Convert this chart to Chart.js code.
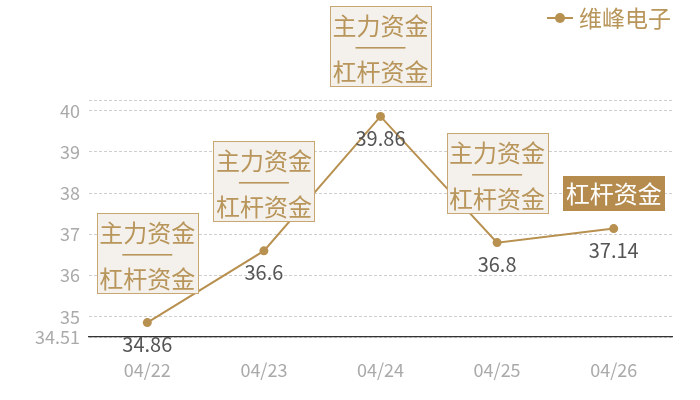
<!DOCTYPE html>
<html>
<head>
<meta charset="utf-8">
<script src="https://cdn.jsdelivr.net/npm/chart.js@4/dist/chart.umd.min.js"></script>
<style>
html,body{margin:0;padding:0;background:#fff;}
#wrap{width:700px;height:400px;}
</style>
</head>
<body>
<div id="wrap"><canvas id="c" width="700" height="400"></canvas></div>
<script>
const categories = ['04/22', '04/23', '04/24', '04/25', '04/26'];
const seriesName = '维峰电子';
const prices = [34.86, 36.6, 39.86, 36.8, 37.14];
const yTickValues = [35, 36, 37, 38, 39, 40];
const annotationKinds = ['both', 'both', 'both', 'both', 'leverage'];
const labelMain = '主力资金';
const labelLeverage = '杠杆资金';

const FONT = "'Noto Sans CJK SC', 'Noto Sans', sans-serif";
const GOLD = '#b8904f';
const yMin = Math.min(...prices) * 0.99;
const yMax = Math.max(...prices) * 1.01;

const overlay = {
  id: 'overlay',
  afterDatasetsDraw(chart) {
    const ctx = chart.ctx;
    const meta = chart.getDatasetMeta(0);
    ctx.save();
    // data labels
    ctx.font = '20px ' + FONT;
    ctx.fillStyle = '#555';
    ctx.textAlign = 'center';
    ctx.textBaseline = 'middle';
    meta.data.forEach((pt, i) => {
      ctx.fillText(String(prices[i]), pt.x, pt.y + 22);
    });
    // annotation boxes
    ctx.font = '24px ' + FONT;
    meta.data.forEach((pt, i) => {
      const kind = annotationKinds[i];
      const w = 101;
      const left = Math.round(pt.x - w / 2) + 0.5;
      if (kind === 'both') {
        const h = 80;
        const bottom = Math.round(pt.y - 30) + 0.5;
        const top = bottom - h;
        ctx.fillStyle = '#f4f1ec';
        ctx.fillRect(left, top, w, h);
        ctx.strokeStyle = '#c9a772';
        ctx.lineWidth = 1;
        ctx.strokeRect(left, top, w, h);
        ctx.fillStyle = '#b8955a';
        ctx.fillText(labelMain, pt.x, top + 19);
        ctx.fillRect(pt.x - 25, top + 40.5, 50, 1.6);
        ctx.fillText(labelLeverage, pt.x, top + 65);
      } else {
        const h = 35;
        const bottom = Math.round(pt.y - 18);
        const top = bottom - h;
        ctx.fillStyle = '#b58c4e';
        ctx.fillRect(left - 0.5, top, w + 1, h);
        ctx.fillStyle = '#ffffff';
        ctx.fillText(labelLeverage, pt.x, top + 18);
      }
    });
    // legend
    ctx.strokeStyle = GOLD;
    ctx.lineWidth = 2;
    ctx.beginPath();
    ctx.moveTo(547, 18);
    ctx.lineTo(573, 18);
    ctx.stroke();
    ctx.fillStyle = GOLD;
    ctx.beginPath();
    ctx.arc(560, 18, 5, 0, Math.PI * 2);
    ctx.fill();
    ctx.font = '23px ' + FONT;
    ctx.fillStyle = '#b8955a';
    ctx.textAlign = 'left';
    ctx.fillText(seriesName, 579, 18);
    ctx.restore();
  }
};

new Chart(document.getElementById('c'), {
  type: 'line',
  data: {
    labels: categories,
    datasets: [{
      label: seriesName,
      data: prices,
      borderColor: GOLD,
      backgroundColor: GOLD,
      borderWidth: 2,
      pointRadius: 4.5,
      pointHoverRadius: 4.5,
      pointBackgroundColor: GOLD,
      pointBorderWidth: 0,
      tension: 0,
      fill: false
    }]
  },
  options: {
    responsive: false,
    animation: false,
    events: [],
    layout: { padding: { top: 100, right: 28, left: 0, bottom: 0 } },
    plugins: { legend: { display: false }, tooltip: { enabled: false } },
    scales: {
      x: {
        offset: true,
        grid: { display: false, drawTicks: false },
        border: { display: true, color: '#333', width: 1.3 },
        ticks: { color: '#aaa', font: { size: 18, family: FONT }, padding: 22 },
        afterFit(scale) { scale.height = 63; }
      },
      y: {
        min: yMin,
        max: yMax,
        grid: { color: '#cfcfcf', lineWidth: 1, drawTicks: false },
        border: { display: false, dash: [3, 2] },
        ticks: {
          color: '#aaa',
          font: { size: 18, family: FONT },
          padding: 9,
          callback(v) {
            if (Math.abs(v - yMax) < 1e-9) return '';
            if (Math.abs(v - yMin) < 1e-9) return v.toFixed(2);
            return String(v);
          }
        },
        afterBuildTicks(scale) {
          scale.ticks = [yMin, ...yTickValues, yMax].map(v => ({ value: v }));
        },
        afterFit(scale) { scale.width = 89; }
      }
    }
  },
  plugins: [overlay]
});
</script>
</body>
</html>
